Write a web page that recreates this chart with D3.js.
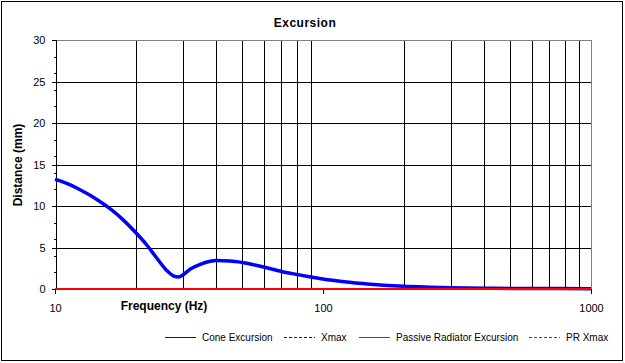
<!DOCTYPE html>
<html>
<head>
<meta charset="utf-8">
<script src="https://cdn.jsdelivr.net/npm/d3@7"></script>
<style>
  body { margin: 0; background: #fff; }
  svg { display: block; font-family: "Liberation Sans", Arial, sans-serif; }
</style>
</head>
<body>
<svg id="chart" width="625" height="363"></svg>
<script>
// frequency points (Hz) and excursion values (mm)
var freqs = [10, 11, 12, 13, 14, 16, 18, 20, 22, 24, 26, 28, 29, 30, 32, 35, 38, 40, 45, 50,
    60, 70, 80, 90, 100, 120, 150, 200, 250, 300, 400, 500, 700, 1000];
var coneExcursion = [13.2, 12.75, 12.2, 11.6, 11.0, 9.7, 8.3, 6.8, 5.3, 3.7, 2.3, 1.5, 1.45, 1.7, 2.4, 3.0, 3.35, 3.42, 3.38, 3.2,
    2.65, 2.1, 1.75, 1.45, 1.2, 0.87, 0.58, 0.32, 0.22, 0.16, 0.09, 0.07, 0.05, 0.04];
var prExcursion = [0, 0, 0, 0, 0, 0, 0, 0, 0, 0, 0, 0, 0, 0, 0, 0, 0, 0, 0, 0,
    0, 0, 0, 0, 0, 0, 0, 0, 0, 0, 0, 0, 0, 0];
var xTicks = [10, 100, 1000];
var xGrid = [20, 30, 40, 50, 60, 70, 80, 90, 200, 300, 400, 500, 600, 700, 800, 900];
var yTicks = [0, 5, 10, 15, 20, 25, 30];
var yMinor = [2, 4, 6, 8, 12, 14, 16, 18, 22, 24, 26, 28];
var legendItems = [
    { label: "Cone Excursion", color: "#0000ff", dash: null, x: 165 },
    { label: "Xmax", color: "#0000ff", dash: "3,2", x: 284 },
    { label: "Passive Radiator Excursion", color: "#ff0000", dash: null, x: 359 },
    { label: "PR Xmax", color: "#ff0000", dash: "3,2", x: 529 }
];

(function () {
    var svg, pLeft, pRight, pTop, pBottom, x, y, grid, xAxis, line, legend, items;
    svg = d3.select("#chart");
    pLeft = 55;
    pRight = 591;
    pTop = 40;
    pBottom = 289;

    svg.append("rect").attr("x", 1.5).attr("y", 1.5).attr("width", 621).attr("height", 359)
        .attr("fill", "#fff").attr("stroke", "#000").attr("stroke-width", 1);

    x = d3.scaleLog().domain([10, 1000]).range([pLeft, pRight]);
    y = d3.scaleLinear().domain([0, 30]).range([pBottom, pTop]);

    // grid
    grid = svg.append("g").attr("shape-rendering", "crispEdges");
    grid.selectAll(".vg").data(xGrid).enter().append("line")
        .attr("x1", function (d) { return Math.round(x(d)) + 0.5; })
        .attr("x2", function (d) { return Math.round(x(d)) + 0.5; })
        .attr("y1", pTop).attr("y2", pBottom).attr("stroke", "#000");
    grid.selectAll(".hg").data(yTicks.slice(1, -1)).enter().append("line")
        .attr("x1", pLeft).attr("x2", pRight)
        .attr("y1", function (d) { return Math.round(y(d)) + 0.5; })
        .attr("y2", function (d) { return Math.round(y(d)) + 0.5; })
        .attr("stroke", "#000");
    // plot frame: grey top/right, black axes
    grid.append("line").attr("x1", pLeft).attr("x2", pRight + 1).attr("y1", pTop + 0.5).attr("y2", pTop + 0.5).attr("stroke", "#808080");
    grid.append("line").attr("x1", pRight + 0.5).attr("x2", pRight + 0.5).attr("y1", pTop).attr("y2", pBottom).attr("stroke", "#808080");

    // y axis, major and minor ticks
    svg.append("g").attr("transform", "translate(" + (pLeft + 0.5) + ",0)")
        .call(d3.axisLeft(y).tickValues(yTicks).tickSize(4).tickPadding(6));
    svg.append("g").attr("transform", "translate(" + (pLeft + 0.5) + ",0)")
        .call(d3.axisLeft(y).tickValues(yMinor).tickSize(2).tickFormat(""))
        .select(".domain").remove();

    // x axis
    xAxis = svg.append("g").attr("transform", "translate(0," + (pBottom + 0.5) + ")")
        .call(d3.axisBottom(x).tickValues(xTicks).tickFormat(d3.format("d")).tickSize(4).tickPadding(11));

    svg.selectAll(".domain").attr("stroke", "#000").attr("shape-rendering", "crispEdges");
    svg.selectAll(".tick line").attr("stroke", "#000").attr("shape-rendering", "crispEdges");
    svg.selectAll(".tick text").attr("font-size", 11).attr("fill", "#000")
        .attr("font-family", "'Liberation Sans', Arial, sans-serif");
    xAxis.select(".domain").attr("d", "M" + pLeft + ",0H" + (pRight + 1));

    // series
    line = d3.line()
        .x(function (d) { return x(d[0]); })
        .y(function (d) { return y(d[1]); })
        .curve(d3.curveMonotoneX);

    svg.append("path").datum(d3.zip(freqs, coneExcursion))
        .attr("d", line).attr("fill", "none").attr("stroke", "#0000ff")
        .attr("stroke-width", 3.5).attr("stroke-linejoin", "round");
    svg.append("path").datum(d3.zip(freqs, prExcursion))
        .attr("d", line).attr("fill", "none").attr("stroke", "#ff0000")
        .attr("stroke-width", 2);

    // titles
    svg.append("text").attr("x", 305).attr("y", 27).attr("text-anchor", "middle")
        .attr("font-size", 12).attr("font-weight", "bold").attr("letter-spacing", 0.5).text("Excursion");
    svg.append("text").attr("x", 164).attr("y", 310).attr("text-anchor", "middle")
        .attr("font-size", 12).attr("font-weight", "bold").text("Frequency (Hz)");
    svg.append("text").attr("transform", "translate(22,165) rotate(-90)").attr("text-anchor", "middle")
        .attr("font-size", 12).attr("font-weight", "bold").text("Distance (mm)");

    // legend
    legend = svg.append("g").attr("transform", "translate(0,337)");
    items = legend.selectAll(".legendItem").data(legendItems).enter().append("g")
        .attr("class", "legendItem")
        .attr("transform", function (d) { return "translate(" + d.x + ",0)"; });
    items.append("line").attr("x1", 0).attr("x2", 31).attr("y1", 0.5).attr("y2", 0.5)
        .attr("stroke", function (d) { return d.color; })
        .attr("stroke-dasharray", function (d) { return d.dash; });
    items.append("text").attr("x", 37).attr("y", 4).attr("font-size", 10).text(function (d) { return d.label; });
})();
</script>
</body>
</html>
